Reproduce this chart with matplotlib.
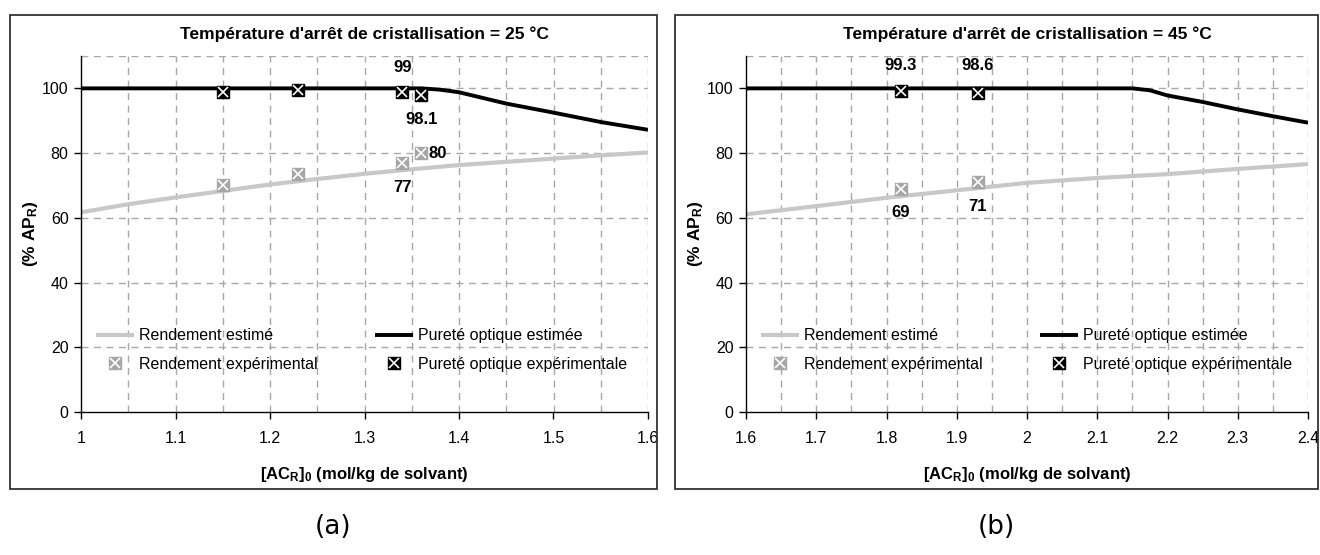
import matplotlib
matplotlib.use("Agg")
import matplotlib.pyplot as plt
import numpy as np
from matplotlib.patches import Rectangle

plt.rcParams.update({
    "font.family": ["Liberation Sans Narrow", "Liberation Sans", "DejaVu Sans"],
    "mathtext.fontset": "custom",
    "mathtext.rm": "Liberation Sans:bold",
    "mathtext.bf": "Liberation Sans:bold",
    "mathtext.default": "rm",
})

# ── data: panel (a) 25 °C ──
xa_est = [1.0, 1.05, 1.1, 1.15, 1.2, 1.25, 1.3, 1.35, 1.4, 1.45, 1.5, 1.55, 1.6]
ya_rend = [61.7, 64.2, 66.3, 68.3, 70.3, 72.0, 73.6, 75.0, 76.3, 77.3, 78.3, 79.3, 80.2]
xa_pur = [1.0, 1.36, 1.38, 1.4, 1.45, 1.5, 1.55, 1.6]
ya_pur = [100, 100, 99.6, 98.8, 95.3, 92.5, 89.6, 87.2]
xa_exp = [1.15, 1.23, 1.34, 1.36]
ya_rend_exp = [70, 73.5, 77, 80]
ya_pur_exp = [99, 99.5, 99, 98.1]

# ── data: panel (b) 45 °C ──
xb_est = [1.6, 1.7, 1.8, 1.9, 2.0, 2.1, 2.2, 2.3, 2.4]
yb_rend = [61.1, 63.6, 66.2, 68.5, 70.8, 72.3, 73.5, 75.1, 76.6]
xb_pur = [1.6, 2.15, 2.175, 2.2, 2.25, 2.3, 2.35, 2.4]
yb_pur = [100, 100, 99.4, 97.8, 95.8, 93.5, 91.4, 89.4]
xb_exp = [1.82, 1.93]
yb_rend_exp = [69, 71]
yb_pur_exp = [99.3, 98.6]

GRAY_LINE = '#c8c8c8'
GRAY_MK = '#a6a6a6'
GRID = '#a8a8a8'

fig = plt.figure(figsize=(13.2, 5.55), dpi=100)

# panel frames
for x0, x1 in [(10, 657), (675, 1318)]:
    fig.patches.append(Rectangle((x0 / 1320, 1 - 489 / 555), (x1 - x0) / 1320, (489 - 15) / 555,
                                 transform=fig.transFigure, fill=False, edgecolor='#333333', linewidth=1.3))


def panel(ax, x_est, y_rend, x_pur, y_pur, x_exp, y_rend_exp, y_pur_exp, xlim, temp, notes):
    ax.set_xlim(*xlim)
    ax.set_ylim(0, 110)
    # grid
    for xv in np.arange(xlim[0] + 0.05, xlim[1] + 0.001, 0.05):
        ax.axvline(xv, color=GRID, lw=1, ls=(0, (5, 4)), zorder=0)
    for yv in [20, 40, 60, 80, 100, 110]:
        ax.axhline(yv, color=GRID, lw=1, ls=(0, (5, 4)), zorder=0)

    l1, = ax.plot(x_est, y_rend, color=GRAY_LINE, lw=3, solid_capstyle='butt', zorder=2)
    l2, = ax.plot(x_pur, y_pur, color='black', lw=2.8, solid_capstyle='butt', zorder=2)
    s1, = ax.plot(x_exp, y_rend_exp, ls='none', marker='s', ms=9, mfc=GRAY_MK, mec=GRAY_MK, zorder=3)
    x1, = ax.plot(x_exp, y_rend_exp, ls='none', marker='x', ms=7, mew=1.2, color='white', zorder=4)
    s2, = ax.plot(x_exp, y_pur_exp, ls='none', marker='s', ms=9, mfc='black', mec='black', zorder=3)
    x2, = ax.plot(x_exp, y_pur_exp, ls='none', marker='x', ms=7, mew=1.2, color='white', zorder=4)

    for txt, xx, yy, ha in notes:
        ax.text(xx, yy, txt, fontsize=12, fontweight='bold', ha=ha, va='center', zorder=5)

    ticks = np.round(np.arange(xlim[0], xlim[1] + 0.001, 0.1), 2)
    ax.set_xticks(ticks)
    ax.set_xticklabels([f'{v:g}' for v in ticks])
    ax.set_yticks([0, 20, 40, 60, 80, 100])
    ax.tick_params(direction='out', length=5, width=1, labelsize=11.5, pad=9)
    ax.tick_params(axis='y', pad=4)
    ax.spines['top'].set_visible(False)
    ax.spines['right'].set_visible(False)
    ax.spines['left'].set_linewidth(1)
    ax.spines['bottom'].set_linewidth(1)
    ax.set_title(f"Température d'arrêt de cristallisation = {temp} °C",
                 fontsize=12.5, fontweight='bold', pad=12)
    ax.set_xlabel('[AC$_\\mathregular{R}$]$_\\mathregular{0}$ (mol/kg de solvant)',
                  fontsize=12, fontweight='bold', labelpad=13)
    ax.set_ylabel('(% AP$_\\mathregular{R}$)', fontsize=12.5, fontweight='bold', labelpad=1)

    ax.legend([l1, (s1, x1), l2, (s2, x2)],
              ['Rendement estimé', 'Rendement expérimental',
               'Pureté optique estimée', 'Pureté optique expérimentale'],
              ncol=2, loc='lower left', bbox_to_anchor=(0.015, 0.095), frameon=False,
              fontsize=11.5, handlelength=2.4, handletextpad=0.3, columnspacing=3.6,
              labelspacing=0.85, borderaxespad=0)


ax_a = fig.add_axes([81 / 1320, 1 - 412 / 555, 567 / 1320, 356 / 555])
panel(ax_a, xa_est, ya_rend, xa_pur, ya_pur, xa_exp, ya_rend_exp, ya_pur_exp, (1.0, 1.6), 25,
      [('99', 1.34, 106.5, 'center'), ('98.1', 1.36, 90.5, 'center'),
       ('80', 1.368, 80, 'left'), ('77', 1.34, 69.5, 'center')])

ax_b = fig.add_axes([746 / 1320, 1 - 412 / 555, 562 / 1320, 356 / 555])
panel(ax_b, xb_est, yb_rend, xb_pur, yb_pur, xb_exp, yb_rend_exp, yb_pur_exp, (1.6, 2.4), 45,
      [('99.3', 1.82, 107, 'center'), ('98.6', 1.93, 107, 'center'),
       ('69', 1.82, 61.5, 'center'), ('71', 1.93, 63.5, 'center')])

fig.text(333 / 1320, 1 - 527 / 555, '(a)', fontsize=19, family='DejaVu Sans', ha='center', va='center')
fig.text(996 / 1320, 1 - 527 / 555, '(b)', fontsize=19, family='DejaVu Sans', ha='center', va='center')

fig.savefig('out.png', dpi=100, facecolor='white')
